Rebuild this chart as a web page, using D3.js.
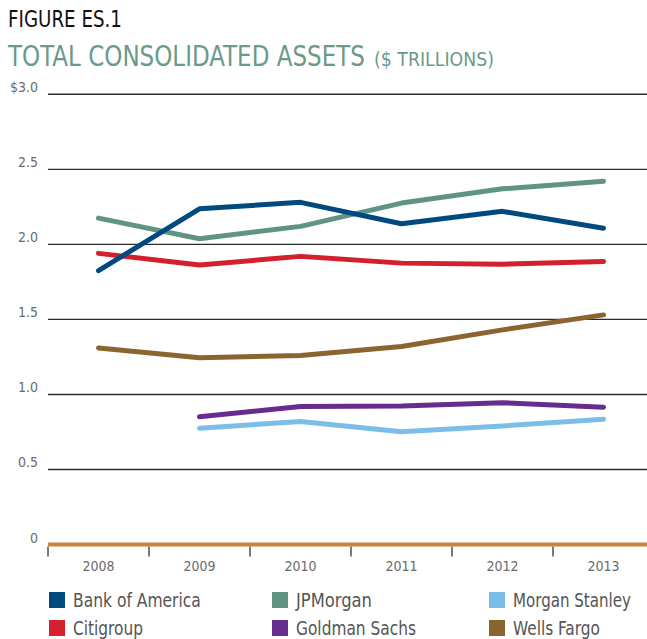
<!DOCTYPE html>
<html>
<head>
<meta charset="utf-8">
<script src="https://cdn.jsdelivr.net/npm/d3@7"></script>
<style>
  html, body { margin: 0; padding: 0; background: #fff; }
  svg { display: block; }
  text { font-family: "Liberation Sans Narrow", "DejaVu Sans Condensed", "Roboto Condensed", sans-serif; }
</style>
</head>
<body>
<svg id="chart" width="647" height="639"></svg>
<script>
const years = ["2008", "2009", "2010", "2011", "2012", "2013"];
const bankOfAmerica = [1.825, 2.237, 2.28, 2.137, 2.22, 2.108];
const jpMorgan      = [2.175, 2.037, 2.12, 2.275, 2.37, 2.42];
const citigroup     = [1.94, 1.863, 1.92, 1.875, 1.868, 1.885];
const wellsFargo    = [1.31, 1.245, 1.26, 1.32, 1.43, 1.53];
const goldmanSachs  = [null, 0.852, 0.919, 0.923, 0.945, 0.915];
const morganStanley = [null, 0.775, 0.82, 0.752, 0.79, 0.835];
const yTicks = [0, 0.5, 1.0, 1.5, 2.0, 2.5, 3.0];
const yTickLabels = ["0", "0.5", "1.0", "1.5", "2.0", "2.5", "$3.0"];
const seriesNames = ["Bank of America", "JPMorgan", "Morgan Stanley", "Citigroup", "Goldman Sachs", "Wells Fargo"];
const seriesColors = ["#004a80", "#5f9482", "#7bbde8", "#d4202c", "#662d8f", "#8a6530"];
const legendTextWidths = [128, 76, 118, 70, 120, 87];

const seriesValues = [bankOfAmerica, jpMorgan, morganStanley, citigroup, goldmanSachs, wellsFargo];
const series = seriesNames.map((n, i) => ({ name: n, values: seriesValues[i], color: seriesColors[i], tw: legendTextWidths[i] }));
const drawOrder = ["Wells Fargo", "Morgan Stanley", "Goldman Sachs", "Citigroup", "JPMorgan", "Bank of America"];

const svg = d3.select("#chart");

// Text fitted to a target width with a horizontal scale transform
function fittedText(x0, y0, size, color, width, str) {
  const t = svg.append("text")
    .attr("font-size", size).attr("fill", color).text(str);
  const len = t.node().getComputedTextLength();
  const sx = width / len;
  t.attr("transform", `translate(${x0},${y0}) scale(${sx},1)`);
  return t;
}

// Titles
fittedText(8, 27, 23, "#111", 114, "FIGURE ES.1");
fittedText(8, 66, 28, "#6a9a88", 357, "TOTAL CONSOLIDATED ASSETS");
fittedText(374, 66, 20, "#6a9a88", 120, "($ TRILLIONS)");

// Scales
const left = 48, right = 647;
const x = d3.scaleBand().domain(years).range([left, left + 101 * 6]).padding(0);
const y = d3.scaleLinear().domain([0, 3]).range([544.5, 94.3]);

// Gridlines
yTicks.filter(t => t > 0).forEach(t => {
  svg.append("line")
    .attr("x1", left).attr("x2", right)
    .attr("y1", y(t)).attr("y2", y(t))
    .attr("stroke", "#2b2b2b").attr("stroke-width", 1.4);
});

// Y labels
yTicks.forEach((t, i) => {
  svg.append("text")
    .attr("x", 38).attr("y", y(t) - 2)
    .attr("text-anchor", "end")
    .attr("font-size", 14).attr("fill", "#6b6b6b")
    .text(yTickLabels[i]);
});

// X axis labels
const xAxis = d3.axisBottom(x).tickSize(0).tickFormat(d => d);
const gx = svg.append("g").attr("transform", `translate(0, ${y(0)})`).call(xAxis);
gx.select(".domain").remove();
gx.selectAll("text")
  .attr("y", 17)
  .attr("font-size", 14).attr("fill", "#6b6b6b")
  .style("font-family", '"Liberation Sans Narrow", "DejaVu Sans Condensed", sans-serif');
years.forEach(yr => {
  svg.append("line")
    .attr("x1", x(yr)).attr("x2", x(yr))
    .attr("y1", y(0) + 2).attr("y2", y(0) + 12)
    .attr("stroke", "#333").attr("stroke-width", 1.3);
});

// Zero baseline (orange)
svg.append("line")
  .attr("x1", left).attr("x2", right)
  .attr("y1", y(0)).attr("y2", y(0))
  .attr("stroke", "#c8843c").attr("stroke-width", 4);

// Lines
const line = d3.line()
  .defined(d => d.v !== null)
  .x(d => x(d.year) + x.bandwidth() / 2)
  .y(d => y(d.v));

drawOrder.forEach(name => {
  const s = series.find(d => d.name === name);
  const pts = years.map((yr, i) => ({ year: yr, v: s.values[i] }));
  svg.append("path")
    .datum(pts)
    .attr("d", line)
    .attr("fill", "none")
    .attr("stroke", s.color)
    .attr("stroke-width", 5)
    .attr("stroke-linecap", "round")
    .attr("stroke-linejoin", "round");
});

// Legend
const legendCols = [49, 272, 489];
const legendRows = [600, 628];
series.forEach((s, i) => {
  const cx = legendCols[i % 3];
  const cy = legendRows[Math.floor(i / 3)];
  svg.append("rect")
    .attr("x", cx).attr("y", cy - 8)
    .attr("width", 16).attr("height", 16)
    .attr("fill", s.color);
  fittedText(cx + 24, cy + 7, 19, "#555", s.tw, s.name);
});
</script>
</body>
</html>
